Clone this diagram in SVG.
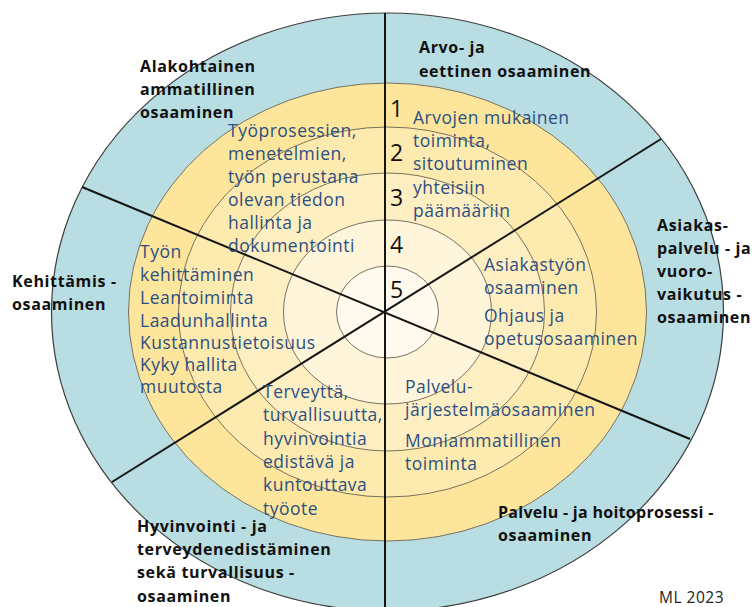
<svg xmlns="http://www.w3.org/2000/svg" width="752" height="607" viewBox="0 0 752 607">
  <style>
    .ring { stroke: #6b6356; stroke-width: 0.9; }
    .outer { stroke: #3d3d3d; stroke-width: 1.2; }
    .div { stroke: #151515; stroke-width: 2; fill: none; }
    .lbl { font-family: "Open Sans", "Liberation Sans", sans-serif; font-weight: 700; font-size: 16px; fill: #111; letter-spacing: 0.65px; }
    .txt { font-family: "Open Sans", "Liberation Sans", sans-serif; font-size: 17.5px; fill: #2c4f82; letter-spacing: 0.5px; }
    .num { font-family: "Open Sans", "Liberation Sans", sans-serif; font-size: 23px; fill: #111; }
    .sig { font-family: "Open Sans", "Liberation Sans", sans-serif; font-size: 15.5px; fill: #222; letter-spacing: 0.5px; }
  </style>
  <rect width="752" height="607" fill="#ffffff"/>

  <!-- concentric competence levels, outer band first -->
  <g id="rings">
    <ellipse class="outer" cx="387.5" cy="312" rx="336" ry="299" fill="#b8dde2"/>
    <ellipse class="ring" cx="387.5" cy="312" rx="259" ry="229" fill="#fde69c"/>
    <ellipse class="ring" cx="387.5" cy="312" rx="209" ry="185" fill="#fdeaae"/>
    <ellipse class="ring" cx="387.5" cy="312" rx="157" ry="139" fill="#feefc3"/>
    <ellipse class="ring" cx="387.5" cy="312" rx="104" ry="92" fill="#fef5da"/>
    <ellipse class="ring" cx="387.5" cy="312" rx="51" ry="46" fill="#fffaed"/>
  </g>

  <!-- sector dividers -->
  <g id="dividers">
    <line class="div" x1="385" y1="13" x2="385" y2="607"/>
    <line class="div" x1="82" y1="187" x2="690" y2="439"/>
    <line class="div" x1="661" y1="139" x2="112" y2="482"/>
  </g>

  <!-- level numbers -->
  <g id="levels">
    <text class="num" x="390" y="117">1</text>
    <text class="num" x="390" y="161">2</text>
    <text class="num" x="390" y="206">3</text>
    <text class="num" x="390" y="253">4</text>
    <text class="num" x="390" y="298">5</text>
  </g>

  <g id="sector-ammatillinen">
    <text class="lbl" x="140" y="72">Alakohtainen</text>
    <text class="lbl" x="140" y="95">ammatillinen</text>
    <text class="lbl" x="140" y="118">osaaminen</text>
    <text class="txt" x="228" y="137">Työprosessien,</text>
    <text class="txt" x="228" y="160">menetelmien,</text>
    <text class="txt" x="228" y="183">työn perustana</text>
    <text class="txt" x="228" y="206">olevan tiedon</text>
    <text class="txt" x="228" y="229">hallinta ja</text>
    <text class="txt" x="228" y="252">dokumentointi</text>
  </g>

  <g id="sector-arvo">
    <text class="lbl" x="419" y="53">Arvo- ja</text>
    <text class="lbl" x="419" y="77">eettinen osaaminen</text>
    <text class="txt" x="413" y="124">Arvojen mukainen</text>
    <text class="txt" x="413" y="147">toiminta,</text>
    <text class="txt" x="413" y="170">sitoutuminen</text>
    <text class="txt" x="413" y="194">yhteisiin</text>
    <text class="txt" x="413" y="217">päämääriin</text>
  </g>

  <g id="sector-asiakaspalvelu">
    <text class="lbl" x="657" y="231">Asiakas-</text>
    <text class="lbl" x="657" y="254">palvelu - ja</text>
    <text class="lbl" x="657" y="277">vuoro-</text>
    <text class="lbl" x="657" y="300">vaikutus -</text>
    <text class="lbl" x="657" y="323">osaaminen</text>
    <text class="txt" x="484" y="271">Asiakastyön</text>
    <text class="txt" x="484" y="294">osaaminen</text>
    <text class="txt" x="484" y="322">Ohjaus ja</text>
    <text class="txt" x="484" y="345">opetusosaaminen</text>
  </g>

  <g id="sector-hoitoprosessi">
    <text class="lbl" x="498" y="518" textLength="216" lengthAdjust="spacing">Palvelu - ja hoitoprosessi -</text>
    <text class="lbl" x="498" y="541">osaaminen</text>
    <text class="txt" x="405" y="393">Palvelu-</text>
    <text class="txt" x="405" y="416">järjestelmäosaaminen</text>
    <text class="txt" x="405" y="447">Moniammatillinen</text>
    <text class="txt" x="405" y="470">toiminta</text>
  </g>

  <g id="sector-hyvinvointi">
    <text class="lbl" x="137" y="532">Hyvinvointi - ja</text>
    <text class="lbl" x="137" y="555">terveydenedistäminen</text>
    <text class="lbl" x="137" y="578">sekä turvallisuus -</text>
    <text class="lbl" x="137" y="602">osaaminen</text>
    <text class="txt" x="263" y="398">Terveyttä,</text>
    <text class="txt" x="263" y="421">turvallisuutta,</text>
    <text class="txt" x="263" y="445">hyvinvointia</text>
    <text class="txt" x="263" y="468">edistävä ja</text>
    <text class="txt" x="263" y="491">kuntouttava</text>
    <text class="txt" x="263" y="515">työote</text>
  </g>

  <g id="sector-kehittamis">
    <text class="lbl" x="12" y="287">Kehittämis -</text>
    <text class="lbl" x="12" y="310">osaaminen</text>
    <text class="txt" x="140" y="258">Työn</text>
    <text class="txt" x="140" y="281">kehittäminen</text>
    <text class="txt" x="140" y="304">Leantoiminta</text>
    <text class="txt" x="140" y="327">Laadunhallinta</text>
    <text class="txt" x="140" y="349">Kustannustietoisuus</text>
    <text class="txt" x="140" y="371">Kyky hallita</text>
    <text class="txt" x="140" y="393">muutosta</text>
  </g>

  <text class="sig" x="659" y="603">ML 2023</text>
</svg>
